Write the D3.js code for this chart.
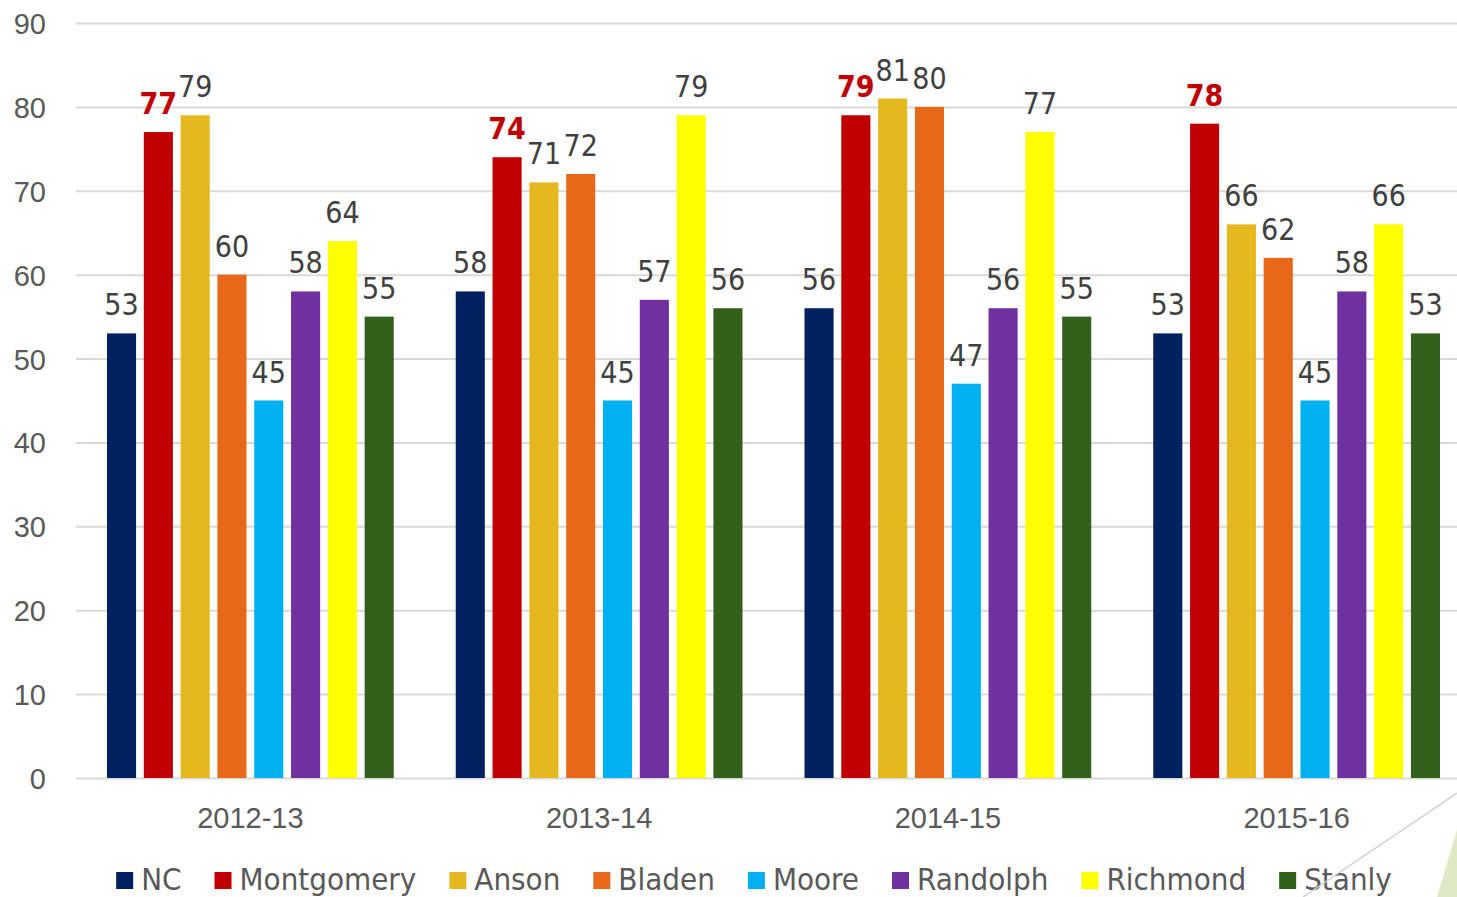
<!DOCTYPE html>
<html>
<head>
<meta charset="utf-8">
<script src="https://cdn.jsdelivr.net/npm/d3@7"></script>
<style>
    html, body { margin: 0; padding: 0; background: #fff; }
    svg { display: block; font-family: "DejaVu Sans Condensed", "DejaVu Sans", sans-serif; font-stretch: condensed; }
    .axis text { fill: #595959; font-size: 29px; }
    .axis .domain { display: none; }
    .axis--y line { stroke: #d9d9d9; stroke-width: 2; }
    .valueLabel { fill: #404040; font-size: 30px; text-anchor: middle; }
    .valueLabel--bold { fill: #c00000; font-weight: bold; }
    .legend text { fill: #595959; font-size: 31px; }
</style>
</head>
<body>
<div class="chart"></div>
<script>
// ----- DATA -------------------------------------------------------------
const years = ["2012-13", "2013-14", "2014-15", "2015-16"];
const counties = ["NC", "Montgomery", "Anson", "Bladen", "Moore", "Randolph", "Richmond", "Stanly"];
const colours = ["#002060", "#c00000", "#e6b820", "#e8681a", "#00b0f0", "#7030a0", "#ffff00", "#33601a"];

// one array per year, in county order
const values2012 = [53, 77, 79, 60, 45, 58, 64, 55];
const values2013 = [58, 74, 71, 72, 45, 57, 79, 56];
const values2014 = [56, 79, 81, 80, 47, 56, 77, 55];
const values2015 = [53, 78, 66, 62, 45, 58, 66, 53];
const valuesByYear = [values2012, values2013, values2014, values2015];

const yTicks = [0, 10, 20, 30, 40, 50, 60, 70, 80, 90];
const boldSeries = "Montgomery";

// ----- CHART ------------------------------------------------------------
const width = 1457;
const height = 897;

let margin = {
    top: 23,
    left: 76
};
// plot runs slightly past the right edge of the picture
let innerWidth = 1395;
let innerHeight = 755;

let svg = d3.select(".chart").append("svg")
            .attr("width", width)
            .attr("height", height);

let y = d3.scaleLinear()
    .domain([0, 90])
    .range([innerHeight, 0]);

let x0 = d3.scaleBand()
    .domain(years)
    .range([0, innerWidth]);

let x1 = d3.scaleBand()
    .domain(counties)
    .range([31, x0.bandwidth() - 31])
    .paddingInner(0.21);

let colour = d3.scaleOrdinal()
    .domain(counties)
    .range(colours);

// y axis with gridlines, clipped to the picture width
svg.append("g")
    .attr("class", "axis axis--y")
    .attr("transform", "translate(" + margin.left + "," + margin.top + ")")
    .call(d3.axisLeft(y).tickValues(yTicks).tickSize(-(width - margin.left)).tickPadding(30))
    .selectAll("text")
        .attr("dy", "0.36em");

// x axis labels
svg.append("g")
    .attr("class", "axis axis--x")
    .attr("transform", "translate(" + margin.left + "," + (margin.top + innerHeight) + ")")
    .call(d3.axisBottom(x0).tickSize(0).tickPadding(40))
    .selectAll("text")
        .attr("dy", "0.36em");

let rows = years.map((yr, i) => {
    return counties.map((c, j) => ({ year: yr, county: c, value: valuesByYear[i][j] }));
});

let groups = svg.append("g")
    .attr("transform", "translate(" + margin.left + "," + margin.top + ")")
    .selectAll(".group")
    .data(rows)
    .enter()
        .append("g")
        .attr("class", "group")
        .attr("transform", (d, i) => "translate(" + x0(years[i]) + ",0)");

groups.selectAll("rect")
    .data(d => d)
    .enter()
        .append("rect")
        .attr("x", d => x1(d.county))
        .attr("y", d => y(d.value))
        .attr("width", x1.bandwidth())
        .attr("height", d => innerHeight - y(d.value))
        .attr("fill", d => colour(d.county));

groups.selectAll(".valueLabel")
    .data(d => d)
    .enter()
        .append("text")
        .attr("class", d => d.county === boldSeries ? "valueLabel valueLabel--bold" : "valueLabel")
        .attr("x", d => x1(d.county) + x1.bandwidth() / 2)
        .attr("y", d => y(d.value) - 18)
        .text(d => d.value);

// legend, centred under the chart
let legend = svg.append("g").attr("class", "legend");
let items = legend.selectAll("g")
    .data(counties)
    .enter()
        .append("g");

items.append("rect")
    .attr("width", 17)
    .attr("height", 17)
    .attr("y", 872)
    .attr("fill", d => colour(d));

items.append("text")
    .attr("x", 25)
    .attr("y", 890)
    .text(d => d);

const legendGap = 33;
let pos = 0;
let offsets = [];
items.each(function (d) {
    offsets.push(pos);
    let w = 25 + this.querySelector("text").getComputedTextLength();
    pos += w + legendGap;
});
let total = pos - legendGap;
let start = 754 - total / 2;
items.attr("transform", (d, i) => "translate(" + (start + offsets[i]) + ",0)");

// decoration at bottom right
svg.append("line")
    .attr("x1", 1457).attr("y1", 793)
    .attr("x2", 1303).attr("y2", 897)
    .attr("stroke", "#d0d0d0")
    .attr("stroke-width", 1.5);

svg.append("path")
    .attr("d", "M1457,830 L1437,897 L1457,897 Z")
    .attr("fill", "#dfe9c6");
</script>
</body>
</html>
